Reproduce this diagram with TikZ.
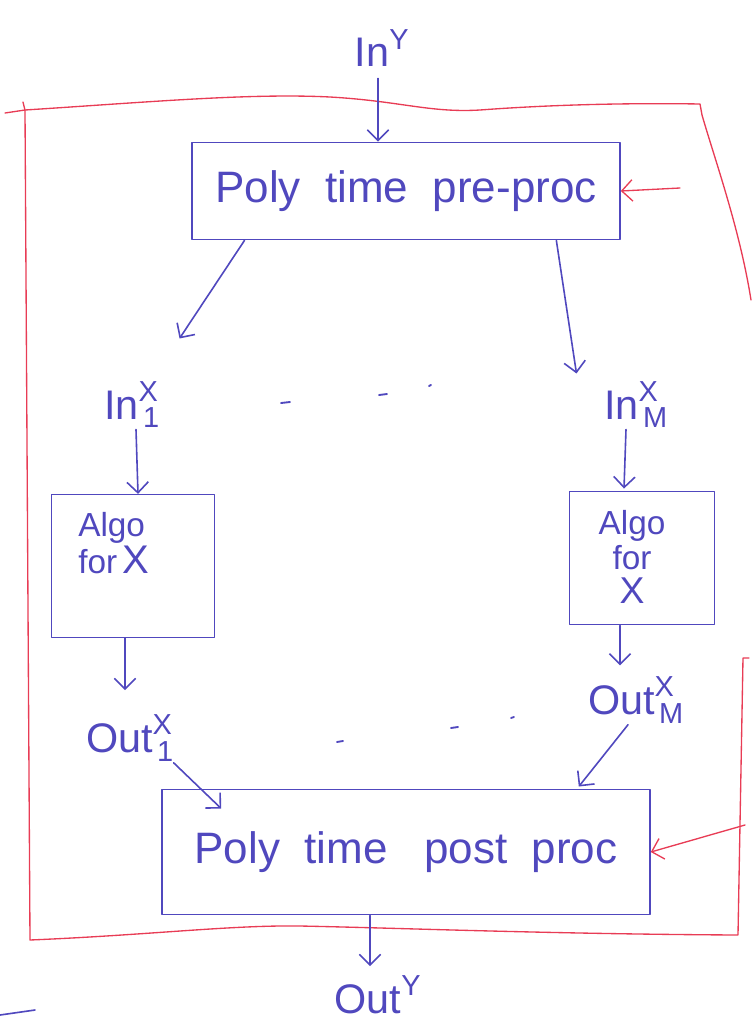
\documentclass[tikz,border=0pt]{standalone}
\usepackage{fontspec}
\usepackage{amsmath}
\setmainfont{Liberation Sans}
\usetikzlibrary{arrows.meta,calc}
\definecolor{pen}{RGB}{80,72,190}
\definecolor{redpen}{RGB}{232,60,85}
\begin{document}
\begin{tikzpicture}[x=0.75pt,y=-0.75pt,
  ink/.style={draw=pen, line width=1.2pt, line cap=round, line join=round},
  redink/.style={draw=redpen, line width=1pt, line cap=round, line join=round},
  arr/.style={ink, -{Straight Barb[length=8pt,width=16pt]}},
  rarr/.style={redink, -{Straight Barb[length=8pt,width=16pt]}},
  lab/.style={text=pen, font=\fontsize{31}{34}\selectfont, inner sep=1pt},
  procbox/.style={ink, text=pen, font=\fontsize{33}{36}\selectfont, inner sep=0pt},
  algotext/.style={text=pen, font=\fontsize{25}{26}\selectfont, inner sep=0pt, align=left},
  dash stroke/.style={ink, line width=1.4pt}
]
\useasboundingbox (0,0) rectangle (751,1036);

% red frame
\draw[redink] (5,113) -- (25,110) .. controls (150,102) and (250,93) .. (330,97)
  .. controls (400,101) and (430,113) .. (480,110) .. controls (560,104) and (640,103) .. (700,104)
  -- (702,115) .. controls (715,160) and (740,230) .. (751,300);
\draw[redink] (23,102) -- (25,110) -- (30,940)
  .. controls (150,935) and (230,925) .. (300,926)
  .. controls (400,928) and (550,934) .. (738,935) -- (743,658) -- (749,658);
\coordinate (rtop) at (680,188);
\coordinate (rbot) at (745,825);

% nodes
\node[lab] (iny) at (382,48) {$\text{In}^{\text{Y}}$};
\node[procbox, minimum width=321pt, minimum height=73pt, draw] (pre) at (406,191) {Poly\ \ time\ \ pre-proc};
\node[lab] (in1) at (132,405) {$\text{In}^{\text{X}}_{\,\text{1}}$};
\node[lab] (inm) at (636,405) {$\text{In}^{\text{X}}_{\,\text{M}}$};
\node[ink, minimum width=122pt, minimum height=107pt, draw] (algo1) at (133,566) {};
\node[algotext, anchor=north west] (algo1t) at (78,512) {Algo\\[2pt] for\,{\fontsize{30}{30}\selectfont X}};
\node[ink, minimum width=109pt, minimum height=100pt, draw] (algo2) at (642,558) {};
\node[algotext, align=center, anchor=north] (algo2t) at (632,510) {Algo\\ for\\ {\fontsize{28}{28}\selectfont X}};
\node[lab] (out1) at (130,738) {$\text{Out}^{\text{X}}_{\,\text{1}}$};
\node[lab] (outm) at (636,700) {$\text{Out}^{\text{X}}_{\,\text{M}}$};
\node[procbox, minimum width=366pt, minimum height=94pt, draw] (post) at (406,852) {Poly\ \ time\ \ \ post\ \ proc};
\node[lab] (outy) at (378,995) {$\text{Out}^{\text{Y}}$};

% ellipsis strokes
\draw[dash stroke] (281,403) -- (290,402);
\draw[dash stroke] (379,395) -- (387,394);
\draw[dash stroke] (429,386) -- (431,385);
\draw[dash stroke] (337,742) -- (343,741);
\draw[dash stroke] (451,728) -- (458,727);
\draw[dash stroke] (511,718) -- (514,717);

% blue connectors
\draw[arr] ($(iny.south)+(-4,10)$) -- ($(iny.south |- pre.north)+(-4,0)$);
\draw[arr] ($(pre.south west)!0.124!(pre.south east)$) -- ($(in1.north east)+(18,-42)$);
\draw[arr] ($(pre.south west)!0.85!(pre.south east)$) -- ($(inm.north west)+(-26,-7)$);
\draw[arr] ($(in1.south)+(4,0)$) -- ($(algo1.north)+(5,0)$);
\draw[arr] ($(inm.south)+(-10,0)$) -- ($(algo2.north)+(-18,-2)$);
\draw[arr] ($(algo1.south)+(-8,0)$) -- ($(algo1.south)+(-8,52)$);
\draw[arr] ($(algo2.south)+(-22,0)$) -- ($(algo2.south)+(-22,40)$);
\draw[arr] ($(out1.south east)+(-2,0)$) -- ($(post.north west)+(60,20)$);
\draw[arr] ($(outm.south)+(-8,0)$) -- ($(post.north east)+(-72,-2)$);
\draw[arr] ($(post.south)+(-36,0)$) -- ($(outy.north)+(-8,-8)$);

% red connectors
\draw[rarr] (rtop) -- (pre.east);
\draw[rarr] (rbot) -- (post.east);

% stray stroke
\draw[ink] (0,1015) -- (35,1010);
\end{tikzpicture}
\end{document}
